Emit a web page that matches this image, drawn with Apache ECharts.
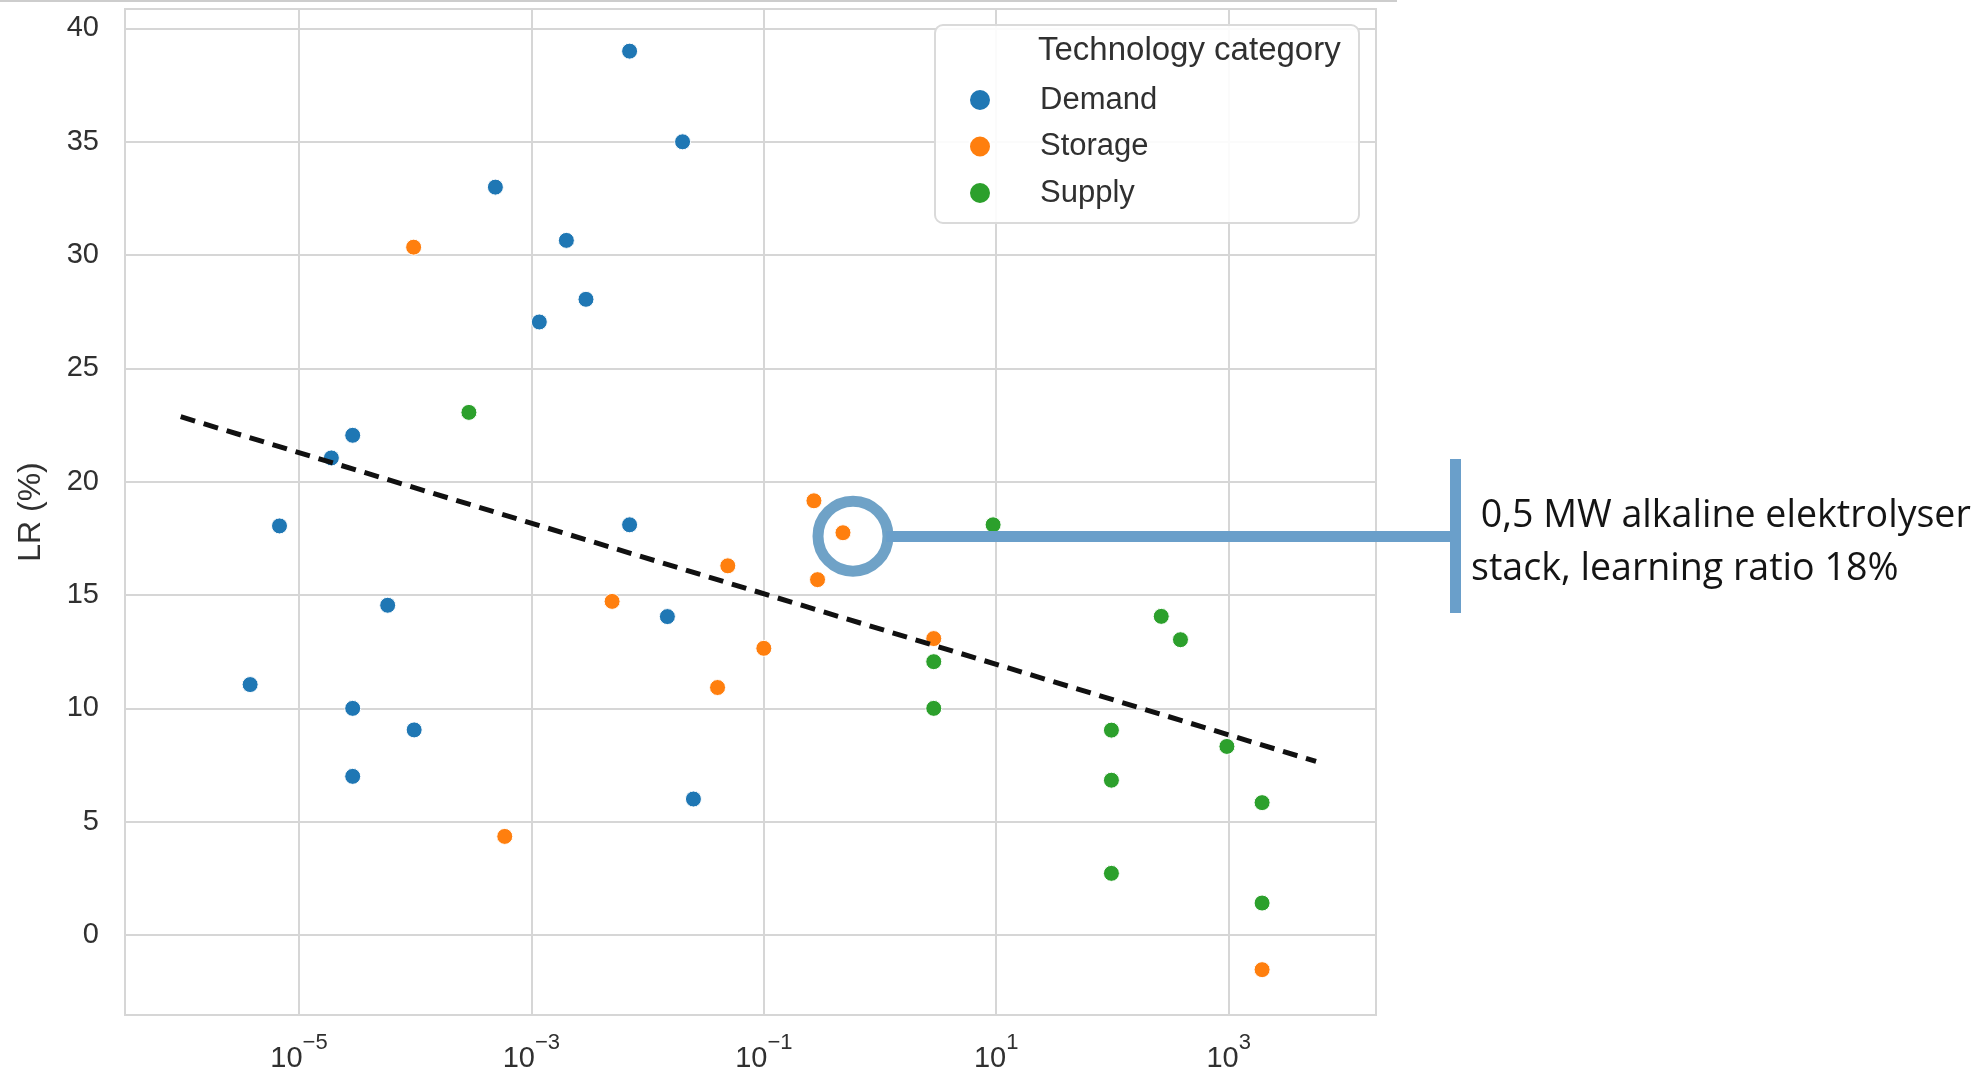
<!DOCTYPE html>
<html><head><meta charset="utf-8">
<script src="https://cdn.jsdelivr.net/npm/echarts@6/dist/echarts.min.js"></script>
<style>html,body{margin:0;padding:0;background:#fff}#c{width:1986px;height:1083px}</style>
</head><body><div id="c"></div>
<script>
// ---- data (x = cumulative capacity, log scale; y = learning rate %) ----
const categories = ['Demand', 'Storage', 'Supply'];
const demandX = [7.0e-3, 2.0e-2, 4.9e-4, 2.0e-3, 2.95e-3, 1.17e-3, 2.9e-5, 1.9e-5, 6.8e-6, 7.0e-3, 5.8e-5, 1.48e-2, 3.8e-6, 2.9e-5, 9.8e-5, 2.9e-5, 2.48e-2];
const demandY = [39.0, 35.0, 33.0, 30.65, 28.05, 27.05, 22.05, 21.05, 18.05, 18.1, 14.55, 14.05, 11.05, 10.0, 9.05, 7.0, 6.0];
const storageX = [9.7e-5, 5.9e-4, 4.95e-3, 4.0e-2, 4.9e-2, 1.0e-1, 0.27, 0.29, 0.48, 2.9, 1.94e3];
const storageY = [30.35, 4.35, 14.72, 10.92, 16.29, 12.65, 19.16, 15.68, 17.75, 13.08, -1.53];
const supplyX = [2.9e-4, 2.9, 2.9, 9.4, 98, 98, 98, 263, 385, 966, 1.94e3, 1.94e3];
const supplyY = [23.06, 12.06, 10.0, 18.1, 9.04, 6.83, 2.72, 14.06, 13.03, 8.32, 5.84, 1.41];
const trendX = [9.6e-7, 5.65e3];
const trendY = [22.87, 7.66];
const xTickExponents = [-5, -3, -1, 1, 3];
const yTicks = [0, 5, 10, 15, 20, 25, 30, 35, 40];
const seriesColors = ['#1f77b4', '#ff7f0e', '#2ca02c'];

// x axis works on log10(x) shifted so that odd decades fall on multiples of 2
const X_SHIFT = 1;
const toAxis = v => Math.log10(v) + X_SHIFT;
const FONT = '"Liberation Sans", Arial, sans-serif';
const TXT = '#303030';

const xs = [demandX, storageX, supplyX];
const ys = [demandY, storageY, supplyY];

const chart = echarts.init(document.getElementById('c'), null, {renderer: 'canvas'});
const scatterSeries = categories.map((name, k) => ({
  name, type: 'scatter',
  data: xs[k].map((x, i) => [toAxis(x), ys[k][i]]),
  symbolSize: 16,
  itemStyle: {color: seriesColors[k], borderColor: '#ffffff', borderWidth: 1, opacity: 1},
  z: 2
}));

chart.setOption({
  backgroundColor: '#ffffff',
  animation: false,
  grid: {left: 125, top: 9, right: 610, bottom: 68, show: true, borderColor: '#d6d6d6', borderWidth: 2, containLabel: false},
  xAxis: {
    type: 'value',
    min: -6.497 + X_SHIFT, max: 4.268 + X_SHIFT,
    minInterval: 2, maxInterval: 2,
    axisLine: {show: false}, axisTick: {show: false},
    splitLine: {show: true, lineStyle: {color: '#d6d6d6', width: 2}},
    axisLabel: {
      showMinLabel: false, showMaxLabel: false, margin: 21,
      formatter: v => {
        const e = Math.round((v - X_SHIFT) * 1000) / 1000;
        if (!xTickExponents.includes(e)) return '';
        return '{b|10}{s|' + (e < 0 ? '\u2212' + (-e) : String(e)) + '}';
      },
      rich: {
        b: {fontSize: 29, lineHeight: 29, padding: [17, 0, 0, 0], color: TXT, fontFamily: FONT},
        s: {fontSize: 22, lineHeight: 22, padding: [4, 0, 20, 0], color: TXT, fontFamily: FONT}
      }
    }
  },
  yAxis: {
    type: 'value',
    min: -3.53, max: 40.86,
    minInterval: 5, maxInterval: 5,
    name: 'LR (%)', nameLocation: 'middle', nameGap: 78,
    nameTextStyle: {fontSize: 32, fontFamily: FONT, color: TXT},
    axisLine: {show: false}, axisTick: {show: false},
    splitLine: {show: true, lineStyle: {color: '#d6d6d6', width: 2}},
    axisLabel: {
      showMinLabel: false, showMaxLabel: false, margin: 26,
      fontSize: 29, fontFamily: FONT, color: TXT,
      formatter: v => yTicks.includes(Math.round(v * 1000) / 1000) ? String(Math.round(v)) : ''
    }
  },
  legend: {
    orient: 'vertical', left: 968, top: 84.5, padding: 0,
    itemWidth: 22, itemHeight: 22, itemGap: 15.5,
    icon: 'circle', selectedMode: false,
    data: categories,
    textStyle: {fontSize: 31, fontFamily: FONT, color: TXT, lineHeight: 22, padding: [0, 0, 0, 44]},
    z: 6
  },
  series: scatterSeries.concat([{
    name: 'trend', type: 'line',
    data: trendX.map((x, i) => [toAxis(x), trendY[i]]),
    symbol: 'none', silent: true,
    lineStyle: {color: '#111111', width: 5, type: [15, 9]},
    z: 3
  }]),
  graphic: [
    {type: 'line', shape: {x1: 0, y1: 1, x2: 1397, y2: 1}, style: {stroke: '#cdcdcd', lineWidth: 2}, z: 1},
    {type: 'rect', shape: {x: 935, y: 25, width: 424, height: 198, r: 8},
     style: {fill: 'rgba(255,255,255,0.9)', stroke: '#dadada', lineWidth: 2}, z: 4},
    {type: 'text', x: 1038, y: 51, z: 6,
     style: {text: 'Technology category', fontSize: 33, fontFamily: FONT, fill: TXT, textVerticalAlign: 'middle'}},
    {type: 'circle', shape: {cx: 853, cy: 536.2, r: 35}, style: {fill: 'none', stroke: '#6fa2c7', lineWidth: 11}, z: 10},
    {type: 'rect', shape: {x: 886, y: 531, width: 570, height: 11}, style: {fill: '#6a9fca'}, z: 10},
    {type: 'rect', shape: {x: 1450, y: 459, width: 11, height: 154}, style: {fill: '#6a9fca'}, z: 10},
    {type: 'text', x: 1471, y: 516, z: 10,
     style: {text: ' 0,5 MW alkaline elektrolyser', fontSize: 37.6, fontFamily: '"Open Sans", "Noto Sans", sans-serif', fill: '#141414', textVerticalAlign: 'middle'}},
    {type: 'text', x: 1471, y: 569, z: 10,
     style: {text: 'stack, learning ratio 18%', fontSize: 37.6, fontFamily: '"Open Sans", "Noto Sans", sans-serif', fill: '#141414', textVerticalAlign: 'middle'}}
  ]
});
</script>
</body></html>
